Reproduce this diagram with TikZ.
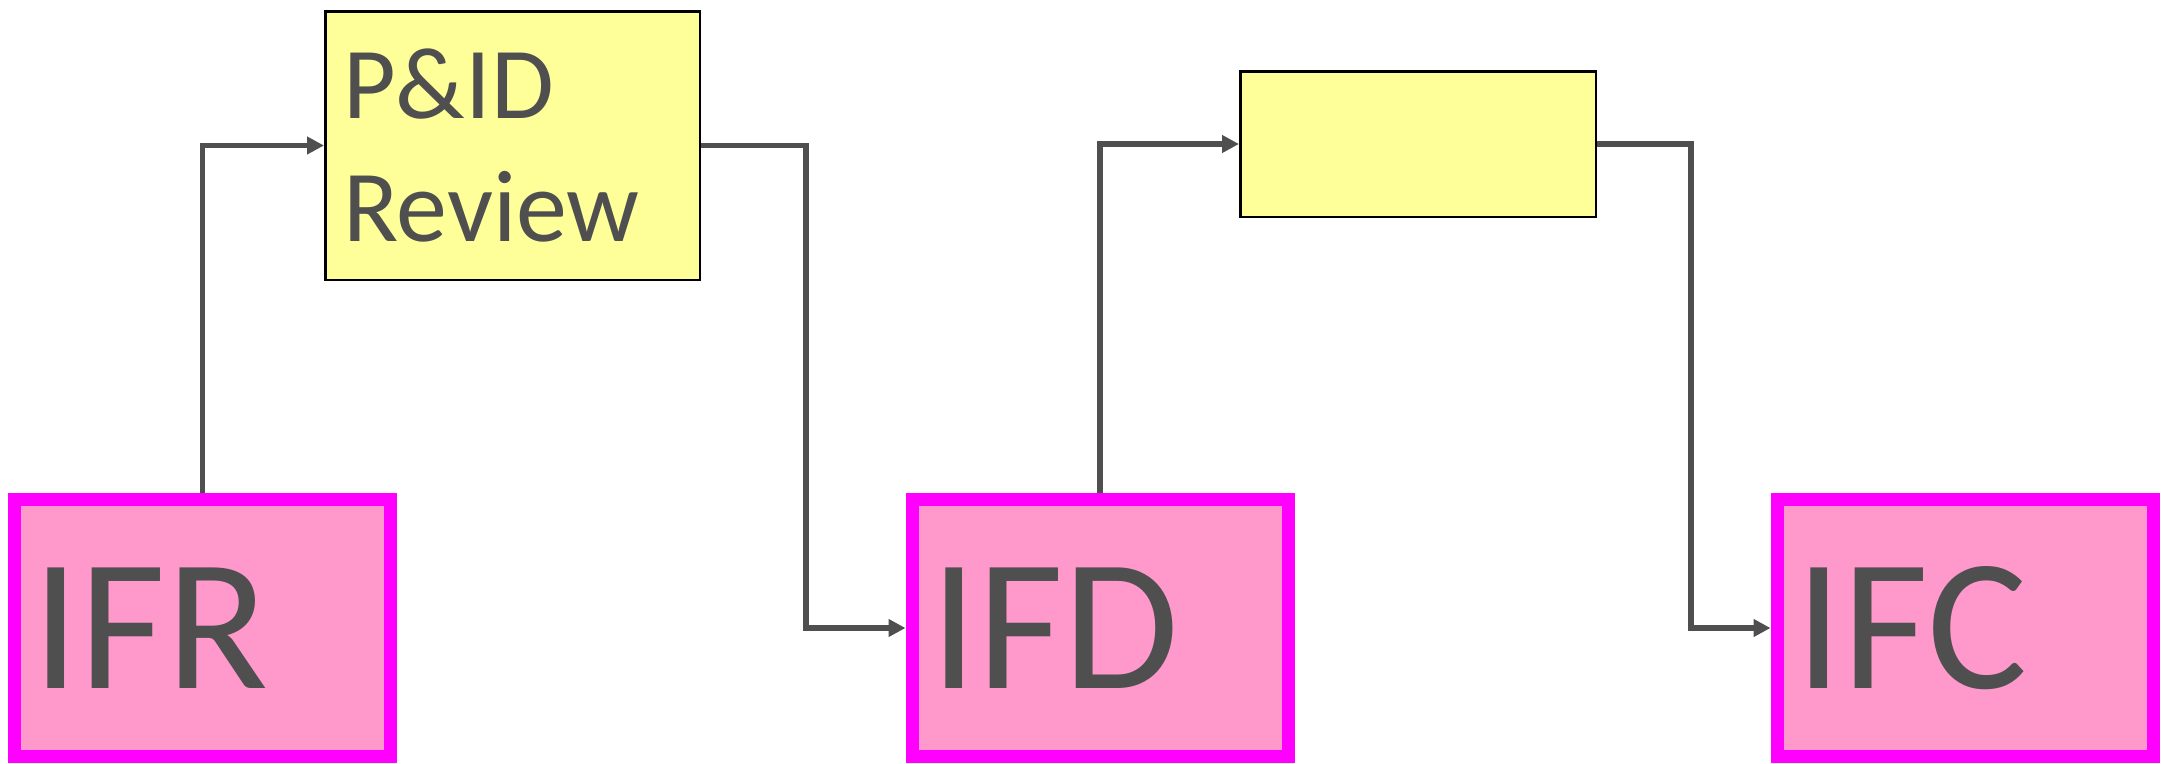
\documentclass[tikz,border=0pt]{standalone}
\usepackage{fontspec}
\setmainfont{Carlito}
\usetikzlibrary{arrows.meta,calc}
\definecolor{ink}{HTML}{4F4F4F}
\definecolor{lemon}{HTML}{FFFF99}
\definecolor{rose}{HTML}{FF99CC}
\definecolor{fuchsia}{HTML}{FF00FF}
\definecolor{wire}{HTML}{4F4F4F}
\begin{document}
\begin{tikzpicture}[
  x=1pt,y=-1pt,
  issue/.style={draw=fuchsia,fill=rose,line width=13pt,minimum width=376pt,minimum height=257pt,inner xsep=18pt,inner ysep=0pt,text width=340pt,align=left,text=ink,font=\fontsize{188}{200}\selectfont},
  review/.style={draw=black,fill=lemon,line width=2.5pt,inner sep=0pt},
  arr/.style={-{Triangle[length=17pt,width=17pt]},color=wire,line width=5.5pt}]
  \useasboundingbox (0,0) rectangle (2163,763);
  \node[issue] (ifr) at (202.5,628) {IFR};
  \node[issue] (ifd) at (1100,628) {IFD};
  \node[issue] (ifc) at (1965,628) {IFC};
  \node[review,minimum width=374.5pt,minimum height=268.5pt,inner xsep=18pt,text width=338.5pt,align=left,text=ink,font=\fontsize{102}{123}\selectfont] (pid) at (512.5,145.5) {P\&ID\\Review};
  \node[review,minimum width=355.5pt,minimum height=145.5pt] (blank) at (1418,144) {};
  \coordinate (turn1) at (806,0);
  \coordinate (turn2) at (1691,0);
  \draw[arr] (ifr.north) |- (pid.west);
  \draw[arr] (pid.east) -- (pid.east -| turn1) |- (ifd.west);
  \draw[arr] (ifd.north) |- (blank.west);
  \draw[arr] (blank.east) -- (blank.east -| turn2) |- (ifc.west);
\end{tikzpicture}
\end{document}
